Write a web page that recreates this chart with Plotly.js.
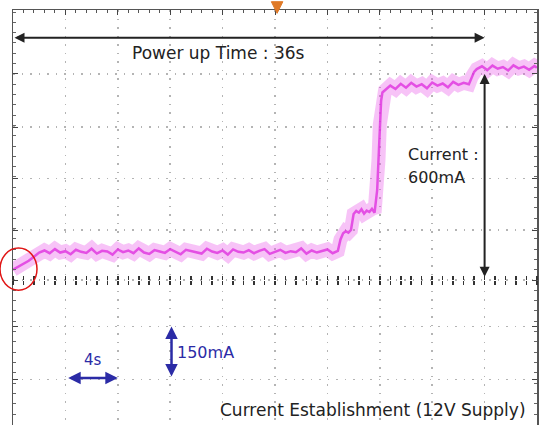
<!DOCTYPE html>
<html>
<head>
<meta charset="utf-8">
<script src="https://cdn.plot.ly/plotly-3.0.1.min.js"></script>
<style>html,body{margin:0;padding:0;background:#fff;}#chart{width:547px;height:425px;}</style>
</head>
<body>
<div id="chart"></div>
<script>
// Time (s) and supply current (mA, relative to the centre graticule line)
var timeS = [0,0.4,0.8,1.2,1.6,2.0,2.4,2.8,3.2,3.6,4.0,4.4,4.8,5.2,5.6,6.0,6.4,6.8,7.2,7.6,8.0,8.4,8.8,9.2,9.6,10.0,10.4,10.8,11.2,11.6,12.0,12.4,12.8,13.2,13.6,14.0,14.4,14.8,15.2,15.6,16.0,16.4,16.8,17.2,17.6,18.0,18.4,18.8,19.2,19.6,20.0,20.4,20.8,21.2,21.6,22.0,22.4,22.8,23.2,23.6,24.0,24.4,24.8,
  25.0,25.2,25.4,25.6,25.8,26.0,26.2,26.4,26.6,26.8,27.0,27.2,27.4,27.6,27.8,27.9,28.0,28.1,28.2,
  28.4,28.8,29.2,29.6,30.0,30.4,30.8,31.2,31.6,32.0,32.4,32.8,33.2,33.6,34.0,34.4,34.8,35.0,35.2,
  35.4,35.8,36.2,36.6,37.0,37.4,37.8,38.2,38.6,39.0,39.4,39.8,40.0];
var currentMA = [30,38,46,56,68,80,86,78,90,80,84,75,88,82,79,91,77,85,83,74,89,81,86,78,92,80,76,87,83,79,90,82,75,88,84,80,77,91,83,79,86,74,89,82,80,87,78,85,90,76,83,88,79,84,81,92,77,86,80,84,89,78,85,
  118,136,142,138,146,192,201,196,206,193,202,198,207,196,262,350,452,522,546,
  552,566,556,571,560,574,563,570,558,575,566,572,561,577,568,574,570,590,606,
  614,622,611,624,615,620,610,625,616,621,612,623,618];

// Graticule rows (mA) and scale annotations
var gridRowsMA = [-290,-135,0,145,295,445,600];
var powerUpLabel = "Power up Time : 36s";
var currentLabel = ["Current :", "600mA"];
var timeScaleLabel = "4s";
var currentScaleLabel = "150mA";
var captionText = "Current Establishment (12V Supply)";
var powerUpTimeS = 36;
var stepCurrentMA = 600;

var FONT = "DejaVu Sans, Verdana, sans-serif";
var BLUE = "#2b2ba6";

var traces = [
  {x: timeS, y: currentMA, type: "scatter", mode: "lines",
   line: {color: "rgba(234,90,234,0.36)", width: 14, shape: "linear"}, hoverinfo: "skip"},
  {x: timeS, y: currentMA, type: "scatter", mode: "lines",
   line: {color: "rgba(222,50,222,0.8)", width: 2.5}, hoverinfo: "skip"},
  {x: [], y: [], xaxis: "x2", type: "scatter", hoverinfo: "skip"},
  {x: [], y: [], xaxis: "x3", type: "scatter", hoverinfo: "skip"}
];

var layout = {
  width: 547, height: 425,
  margin: {l: 13, r: 10, t: 10, b: 0, pad: 0},
  paper_bgcolor: "#ffffff", plot_bgcolor: "#ffffff",
  showlegend: false,
  xaxis: {
    range: [0, 40], side: "top", showline: true, linecolor: "#555", linewidth: 1.5,
    ticks: "inside", ticklen: 5, tickcolor: "#444", tickmode: "linear", tick0: 0, dtick: 4,
    showticklabels: false, showgrid: true, gridcolor: "#b4b4b4", griddash: "1.5px,7px", gridwidth: 1.5,
    zeroline: false, fixedrange: true,
    minor: {tickmode: "linear", tick0: 0, dtick: 0.8, ticks: "inside", ticklen: 3, tickcolor: "#555", showgrid: false}
  },
  xaxis2: {
    range: [0, 40], overlaying: "x", anchor: "free", position: (425-280)/415,
    showline: false, ticks: "outside", ticklen: 4, tickwidth: 1.5, tickcolor: "#333",
    tickmode: "linear", tick0: 0, dtick: 0.8, showticklabels: false, showgrid: false, zeroline: false
  },
  xaxis3: {
    range: [0, 40], overlaying: "x", anchor: "free", position: (425-280)/415, side: "top",
    showline: false, ticks: "outside", ticklen: 4, tickwidth: 1.5, tickcolor: "#333",
    tickmode: "linear", tick0: 0, dtick: 0.8, showticklabels: false, showgrid: false, zeroline: false
  },
  yaxis: {
    range: [-422, 786], showline: true, mirror: "ticks", linecolor: "#555", linewidth: 1.5,
    ticks: "inside", ticklen: 5, tickcolor: "#444", tickmode: "array", tickvals: gridRowsMA,
    showticklabels: false, showgrid: true, gridcolor: "#b4b4b4", griddash: "1.5px,7px", gridwidth: 1.5,
    zeroline: false, fixedrange: true,
    minor: {tickmode: "linear", tick0: 0, dtick: 30, ticks: "inside", ticklen: 3, tickcolor: "#666", showgrid: false}
  },
  shapes: [
    {type: "circle", xref: "paper", yref: "paper", x0: -0.0248, x1: 0.0458, y0: 0.325, y1: 0.4265,
     line: {color: "#e01515", width: 1.5}},
    {type: "path", xref: "paper", yref: "paper", path: "M 0.493 1.02 L 0.515 1.02 L 0.504 0.992 Z",
     fillcolor: "#e07a28", line: {color: "#e07a28", width: 1}}
  ],
  annotations: [
    {x: powerUpTimeS, y: 705, ax: 0, ay: 705, xref: "x", yref: "y", axref: "x", ayref: "y",
     showarrow: true, arrowside: "end+start", arrowhead: 2, arrowsize: 1, arrowwidth: 2, arrowcolor: "#222", text: ""},
    {x: 15.7, y: 660, xref: "x", yref: "y", text: powerUpLabel, showarrow: false,
     font: {family: FONT, size: 17, color: "#222"}},
    {x: powerUpTimeS, y: stepCurrentMA, ax: powerUpTimeS, ay: 5, xref: "x", yref: "y", axref: "x", ayref: "y",
     showarrow: true, arrowside: "end+start", arrowhead: 2, arrowsize: 1, arrowwidth: 2, arrowcolor: "#222", text: ""},
    {x: 30.0, y: 364, xref: "x", yref: "y", xanchor: "left", text: currentLabel[0], showarrow: false,
     font: {family: FONT, size: 16, color: "#222"}},
    {x: 30.0, y: 297, xref: "x", yref: "y", xanchor: "left", text: currentLabel[1], showarrow: false,
     font: {family: FONT, size: 16, color: "#222"}},
    {x: 8.0, y: -285, ax: 4.1, ay: -285, xref: "x", yref: "y", axref: "x", ayref: "y",
     showarrow: true, arrowside: "end+start", arrowhead: 2, arrowsize: 1, arrowwidth: 2.5, arrowcolor: BLUE, text: ""},
    {x: 6.1, y: -233, xref: "x", yref: "y", text: timeScaleLabel, showarrow: false,
     font: {family: FONT, size: 15, color: BLUE}},
    {x: 12.1, y: -135, ax: 12.1, ay: -285, xref: "x", yref: "y", axref: "x", ayref: "y",
     showarrow: true, arrowside: "end+start", arrowhead: 2, arrowsize: 1, arrowwidth: 2.5, arrowcolor: BLUE, text: ""},
    {x: 12.4, y: -210, xref: "x", yref: "y", xanchor: "left", text: currentScaleLabel, showarrow: false,
     font: {family: FONT, size: 16, color: BLUE}},
    {x: 39.3, y: -379, xref: "x", yref: "y", xanchor: "right", text: captionText, showarrow: false,
     font: {family: FONT, size: 17, color: "#222"}}
  ]
};

Plotly.newPlot("chart", traces, layout, {displayModeBar: false, staticPlot: true});
</script>
</body>
</html>
